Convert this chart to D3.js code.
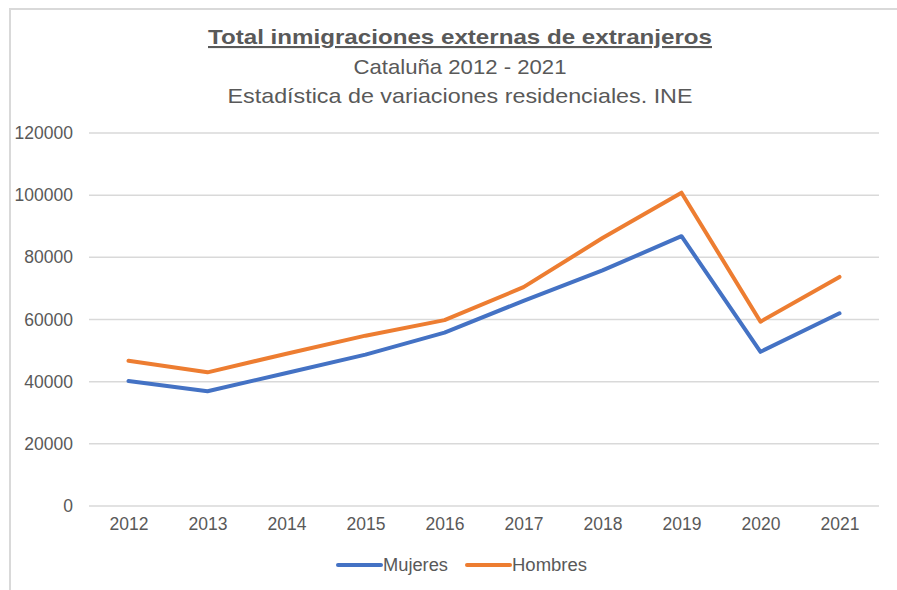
<!DOCTYPE html>
<html>
<head>
<meta charset="utf-8">
<script src="https://cdn.jsdelivr.net/npm/d3@7"></script>
<style>
  html, body { margin: 0; padding: 0; background: #fff; }
  svg { display: block; font-family: "Liberation Sans", Arial, sans-serif; }
</style>
</head>
<body>
<div class="container"></div>
<script>
// data
const years = ["2012", "2013", "2014", "2015", "2016", "2017", "2018", "2019", "2020", "2021"];
const mujeres = [40200, 36900, 42800, 48700, 55800, 66000, 75800, 86800, 49600, 62000];
const hombres = [46700, 43000, 49000, 54800, 59800, 70400, 86200, 100800, 59300, 73700];
const yTicks = [0, 20000, 40000, 60000, 80000, 100000, 120000];
const titleLines = ["Total inmigraciones externas de extranjeros", "Cataluña 2012 - 2021", "Estadística de variaciones residenciales. INE"];
const seriesNames = ["Mujeres", "Hombres"];
const seriesColors = ["#4472C4", "#ED7D31"];

const width = 897, height = 590;
const margin = {top: 133, right: 18, bottom: 84, left: 89};
const textColor = "#595959";

const svg = d3.select(".container")
  .append("svg")
  .attr("width", width)
  .attr("height", height);

// chart frame (only top and left edges visible in the screenshot)
svg.append("path")
  .attr("d", "M10,600 L10,9 L900,9")
  .attr("fill", "none")
  .attr("stroke", "#d9d9d9")
  .attr("stroke-width", 2);

const xScale = d3.scalePoint()
  .domain(years)
  .range([margin.left, width - margin.right])
  .padding(0.5);

const yScale = d3.scaleLinear()
  .domain([0, 120000])
  .range([height - margin.bottom, margin.top]);

// gridlines
svg.append("g")
  .selectAll("line")
  .data(yTicks)
  .enter()
  .append("line")
  .attr("x1", margin.left)
  .attr("x2", width - margin.right)
  .attr("y1", d => yScale(d))
  .attr("y2", d => yScale(d))
  .attr("stroke", "#d9d9d9")
  .attr("stroke-width", 1.5);

// y axis labels
const yAxis = svg.append("g")
  .attr("transform", "translate(" + (margin.left - 16) + ",0)")
  .call(d3.axisLeft(yScale).tickValues(yTicks).tickFormat(d3.format("d")).tickSize(0));
yAxis.select(".domain").remove();
yAxis.selectAll("text")
  .attr("x", 0)
  .attr("fill", textColor)
  .style("font-size", "17.5px")
  .style("font-family", "'Liberation Sans', Arial, sans-serif");

// x axis labels
const xAxis = svg.append("g")
  .attr("transform", "translate(0," + (height - margin.bottom) + ")")
  .call(d3.axisBottom(xScale).tickSize(0));
xAxis.select(".domain").remove();
xAxis.selectAll("text")
  .attr("y", 12)
  .attr("fill", textColor)
  .style("font-size", "17.5px")
  .style("font-family", "'Liberation Sans', Arial, sans-serif");

// lines
const line = d3.line()
  .x((d, i) => xScale(years[i]))
  .y(d => yScale(d));

[mujeres, hombres].forEach(function(values, k) {
  svg.append("path")
    .datum(values)
    .attr("fill", "none")
    .attr("stroke", seriesColors[k])
    .attr("stroke-width", 4)
    .attr("stroke-linejoin", "round")
    .attr("stroke-linecap", "round")
    .attr("d", line);
});

// titles
const titleY = [44, 74, 103];
const titleWidths = [504, 213, 465];
titleLines.forEach(function(t, i) {
  svg.append("text")
    .attr("x", 460)
    .attr("y", titleY[i])
    .attr("text-anchor", "middle")
    .attr("fill", textColor)
    .attr("font-size", "21px")
    .attr("font-weight", i === 0 ? "bold" : "normal")
    .attr("text-decoration", i === 0 ? "underline" : null)
    .attr("textLength", titleWidths[i])
    .attr("lengthAdjust", "spacingAndGlyphs")
    .text(t);
});

// legend
const legendX = [338, 467];
const legendTextWidths = [65, 75];
const legend = svg.append("g");
seriesNames.forEach(function(name, i) {
  legend.append("line")
    .attr("x1", legendX[i])
    .attr("x2", legendX[i] + 43)
    .attr("y1", 565)
    .attr("y2", 565)
    .attr("stroke", seriesColors[i])
    .attr("stroke-width", 4)
    .attr("stroke-linecap", "round");
  legend.append("text")
    .attr("x", legendX[i] + 45)
    .attr("y", 571)
    .attr("fill", textColor)
    .attr("font-size", "18px")
    .attr("textLength", legendTextWidths[i])
    .attr("lengthAdjust", "spacingAndGlyphs")
    .text(name);
});
</script>
</body>
</html>
